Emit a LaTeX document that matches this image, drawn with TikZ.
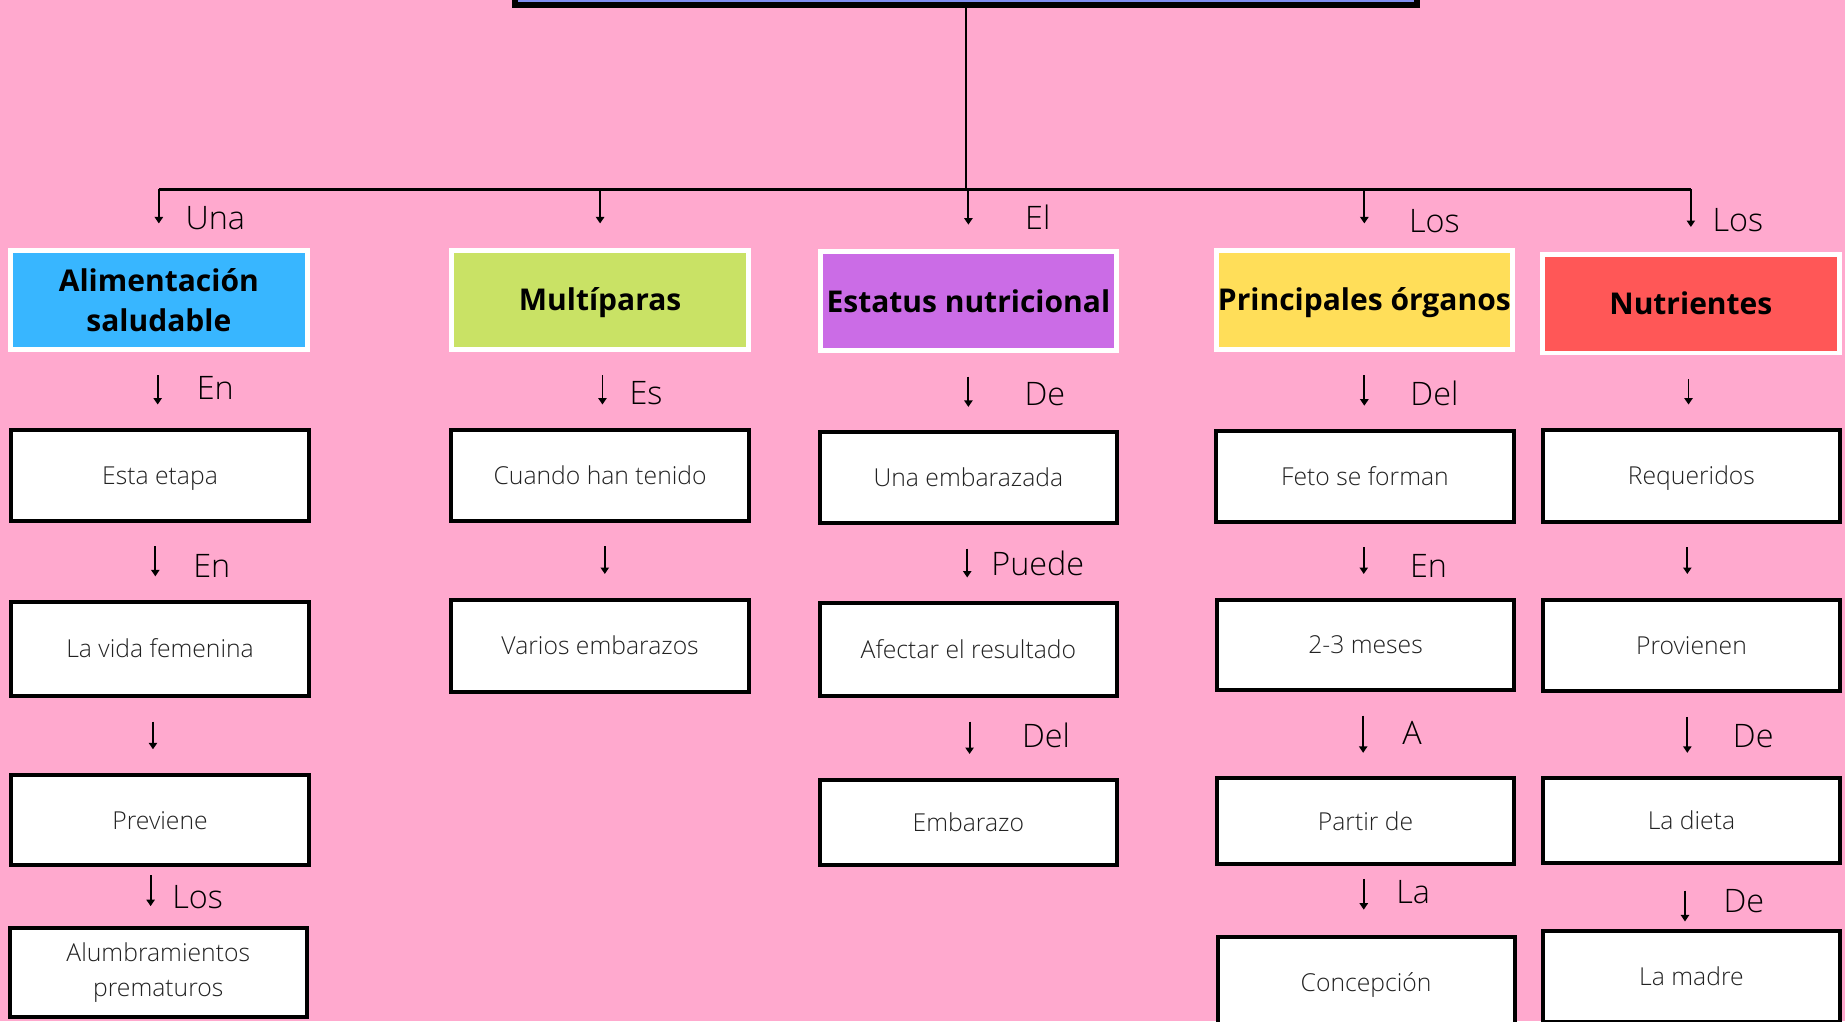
\documentclass[tikz,border=0pt]{standalone}
\usepackage{fontspec}
\setmainfont{Open Sans}
\newfontfamily\lightfont{Open Sans Light}
\usepackage{xcolor}
\usepackage{tikz}
\usetikzlibrary{positioning,calc,arrows.meta}

\definecolor{bgpink}{HTML}{FFA9CE}
\definecolor{titleblue}{HTML}{7F8EF0}
\definecolor{hdblue}{HTML}{38B6FF}
\definecolor{hdlime}{HTML}{C9E265}
\definecolor{hdpurple}{HTML}{CB6CE6}
\definecolor{hdyellow}{HTML}{FFDE59}
\definecolor{hdred}{HTML}{FF5757}
\definecolor{boxtext}{HTML}{222222}

\begin{document}
\begin{tikzpicture}[x=1pt,y=-1pt,
    head/.style={draw=white,line width=4.2pt,minimum width=252pt,minimum height=84pt,
        inner sep=0pt,align=center,text height=18.6pt,text depth=0pt,
        font=\fontsize{25.5}{34}\selectfont\bfseries},
    box/.style={draw=black,fill=white,line width=3.4pt,minimum width=252.6pt,minimum height=77pt,
        inner sep=0pt,align=center,text height=15.3pt,text depth=0pt,text=boxtext,
        font=\lightfont\fontsize{21}{29}\selectfont},
    arr/.style={-{Triangle[length=5.5pt,width=7pt]},line width=1.6pt,shorten <=20pt,shorten >=20pt},
    lbl/.style={inner sep=0pt,font=\lightfont\fontsize{27.5}{34}\selectfont}]
    \useasboundingbox (0,0) rectangle (1568,868);
    \clip (0,0) rectangle (1568,868);
    \fill[bgpink] (0,0) rectangle (1568,868);

    % title and headings
    \node[draw=black,fill=titleblue,line width=5pt,minimum width=767pt,minimum height=60pt] (title) at (821,-25.5) {};
    \coordinate (bus) at (821,161);

    \node[head,fill=hdblue,text height=,text depth=] (alim) at (135,255) {Alimentación\\saludable};
    \node[head,fill=hdlime] (mult) at (510,255) {Multíparas};
    \node[head,fill=hdpurple] (estat) at (823,256) {Estatus nutricional};
    \node[head,fill=hdyellow] (organ) at (1159.5,255) {Principales órganos};
    \node[head,fill=hdred] (nutri) at (1437,258) {Nutrientes};

    % boxes
    \node[box] (etapa) at (136,404) {Esta etapa};
    \node[box,minimum height=80] (vida) at (136,551.5) {La vida femenina};
    \node[box] (prev) at (136,697) {Previene};
    \node[box,minimum height=76,text height=,text depth=] (alumb) at (134.5,826.5) {Alumbramientos\\prematuros};

    \node[box] (cuando) at (510,404) {Cuando han tenido};
    \node[box,minimum height=79] (varios) at (510,549) {Varios embarazos};

    \node[box] (embz) at (823,406) {Una embarazada};
    \node[box,minimum height=79] (afect) at (823,552) {Afectar el resultado};
    \node[box,minimum height=73] (embo) at (823,699) {Embarazo};

    \node[box] (feto) at (1160,405) {Feto se forman};
    \node[box] (meses) at (1160.5,548) {2-3 meses};
    \node[box,minimum height=73] (partir) at (1160.5,698) {Partir de};
    \node[box] (concep) at (1161,835) {Concepción};

    \node[box,minimum height=78] (requ) at (1437.5,404.5) {Requeridos};
    \node[box,minimum height=78] (prov) at (1437.5,548.5) {Provienen};
    \node[box,minimum height=72] (dieta) at (1437.5,697.5) {La dieta};
    \node[box] (madre) at (1437.5,830) {La madre};

    % connectors
    \draw[line width=1.7pt] (title.south) -- (bus);
    \draw[line width=1.8pt] (alim.north |- bus) -- (nutri.north |- bus);
    \foreach \h in {alim,mult,estat,organ,nutri}
        \draw[arr,shorten <=0pt,shorten >=21pt] (\h.north |- bus) -- (\h.north);

    \draw[arr] ([xshift=-1pt]alim.south) -- ([xshift=-1pt]alim.south |- etapa.north);
    \draw[arr] ([xshift=-4pt]etapa.south) -- ([xshift=-4pt]vida.north);
    \draw[arr] ([xshift=-6pt]vida.south) -- ([xshift=-6pt]prev.north);
    \draw[arr,shorten <=6.7pt,shorten >=16.7pt] ([xshift=-8pt]prev.south) -- ([xshift=-8pt]prev.south |- alumb.north);

    \draw[arr] ([xshift=2pt]mult.south) -- ([xshift=2pt]cuando.north);
    \draw[arr] ([xshift=4pt]cuando.south) -- ([xshift=4pt]varios.north);

    \draw[arr] (estat.south) -- (embz.north);
    \draw[arr] ([xshift=-1pt]embz.south) -- ([xshift=-1pt]afect.north);
    \draw[arr] ([xshift=1pt]afect.south) -- ([xshift=1pt]embo.north);

    \draw[arr] (organ.south) -- (organ.south |- feto.north);
    \draw[arr] ([xshift=-1pt]feto.south) -- ([xshift=-1pt]feto.south |- meses.north);
    \draw[arr] ([xshift=-2pt]meses.south) -- ([xshift=-2pt]meses.south |- partir.north);
    \draw[arr,shorten <=10.7pt,shorten >=21.7pt] ([xshift=-1.5pt]partir.south) -- ([xshift=-1.5pt]partir.south |- concep.north);

    \draw[arr] ([xshift=-2pt]nutri.south) -- ([xshift=-2pt]nutri.south |- requ.north);
    \draw[arr] ([xshift=-3.5pt]requ.south) -- ([xshift=-3.5pt]prov.north);
    \draw[arr] ([xshift=-3.5pt]prov.south) -- ([xshift=-3.5pt]dieta.north);
    \draw[arr,shorten <=21.7pt,shorten >=6.7pt] ([xshift=-5.5pt]dieta.south) -- ([xshift=-5.5pt]madre.north);

    % labels
    \foreach \x/\y/\t [count=\i] in {183/185/Una, 882/185/El, 1219/188/Los, 1477/187/Los,
        183/330/En, 549/334/Es, 888/335/De, 1219/334/Del,
        180/481/En, 882/479/Puede, 1214/481/En,
        889/625/Del, 1200/623/A, 1490/626/De,
        168/762/Los, 1201/758/La, 1482/766/De}
        \node[lbl] (l\i) at (\x,\y) {\t};
\end{tikzpicture}
\end{document}
